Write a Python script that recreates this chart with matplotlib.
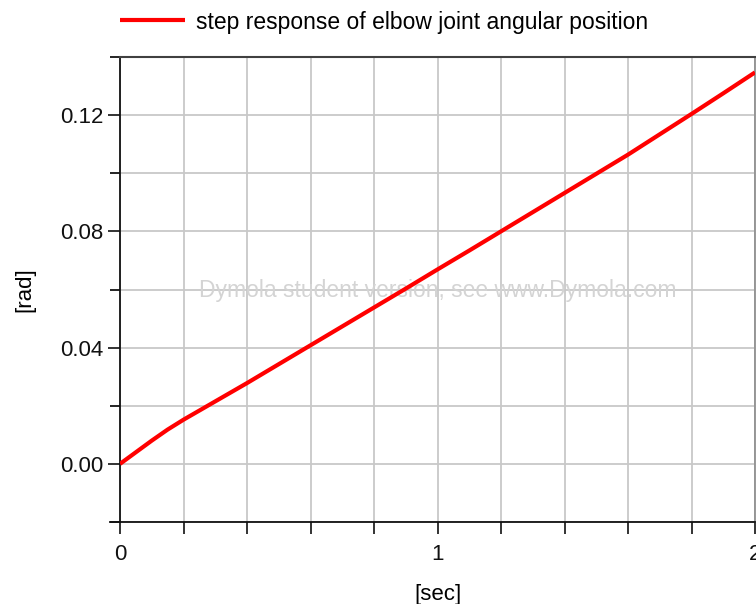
import matplotlib
matplotlib.use("Agg")
import matplotlib.pyplot as plt
from matplotlib.ticker import MultipleLocator, FuncFormatter

# step response of the elbow joint (simulation output)
t_sec = [0.0, 0.05, 0.1, 0.15, 0.2, 0.3, 0.4, 0.5, 0.6, 0.7, 0.8, 0.9, 1.0,
         1.1, 1.2, 1.3, 1.4, 1.5, 1.6, 1.7, 1.8, 1.9, 2.0]
angle_rad = [0.0, 0.0040, 0.0080, 0.0118, 0.0152, 0.0215, 0.0278, 0.0343,
             0.0408, 0.0473, 0.0538, 0.0603, 0.0669, 0.0734, 0.0800, 0.0866,
             0.0932, 0.0998, 0.1064, 0.1134, 0.1204, 0.1275, 0.1347]

y_ticks = [0.00, 0.04, 0.08, 0.12]
x_ticks = [0, 1, 2]

plt.rcParams['font.family'] = ['Liberation Sans', 'DejaVu Sans']

W, H = 756, 604
fig = plt.figure(figsize=(W / 100, H / 100), dpi=100)
ax = fig.add_axes([120 / W, (H - 522) / H, 635 / W, 465 / H])

grid_c = '#c8c8c8'
ax.plot(t_sec, angle_rad, color='#ff0000', lw=3.0, zorder=3,
        solid_capstyle='butt',
        label='step response of elbow joint angular position')

ax.set_xlim(0, 2)
ax.set_ylim(-0.02, 0.14)

ax.xaxis.set_major_locator(MultipleLocator(0.2))
ax.xaxis.set_major_formatter(FuncFormatter(
    lambda v, p: f"{v:.0f}" if abs(v - round(v)) < 1e-6 else ""))
ax.yaxis.set_major_locator(MultipleLocator(0.04))
ax.yaxis.set_minor_locator(MultipleLocator(0.02))
ax.yaxis.set_major_formatter(FuncFormatter(lambda v, p: f"{v:.2f}"))

ax.grid(True, which='both', color=grid_c, lw=1.3, zorder=0)
ax.set_axisbelow(True)

ax.tick_params(axis='x', which='major', direction='out', length=8.5, width=1.2,
               labelsize=16, pad=7, colors='#111111')
ax.tick_params(axis='y', which='major', direction='out', length=9, width=1.2,
               labelsize=16, pad=3, colors='#111111')
ax.tick_params(axis='y', which='minor', direction='out', length=7, width=1.2)

for side in ['left', 'bottom']:
    ax.spines[side].set_color('#111111')
    ax.spines[side].set_linewidth(1.3)
ax.spines['top'].set_color('#404040')
ax.spines['top'].set_linewidth(1.5)
ax.spines['right'].set_color('#909090')
ax.spines['right'].set_linewidth(1.3)

# x axis line sticks out a bit to the left of the y axis
ax.plot([-10 / 635, 0], [0, 0], transform=ax.transAxes, color='#111111',
        lw=1.3, clip_on=False)

ax.set_xlabel('[sec]', fontsize=16, labelpad=14)
ax.set_ylabel('[rad]', fontsize=16, labelpad=18)

ax.text(0.5, (0.14 - 0.0605) / 0.16, 'Dymola student version, see www.Dymola.com',
        transform=ax.transAxes, ha='center', va='center', fontsize=16.5,
        color='#d4d4d4', zorder=1.5)

fig.legend(loc='center left', bbox_to_anchor=(120 / W, 1 - 22 / H),
           frameon=False, fontsize=16.5, handlelength=2.85, handletextpad=0.45,
           borderpad=0, borderaxespad=0)

fig.savefig('out.png', dpi=100)
